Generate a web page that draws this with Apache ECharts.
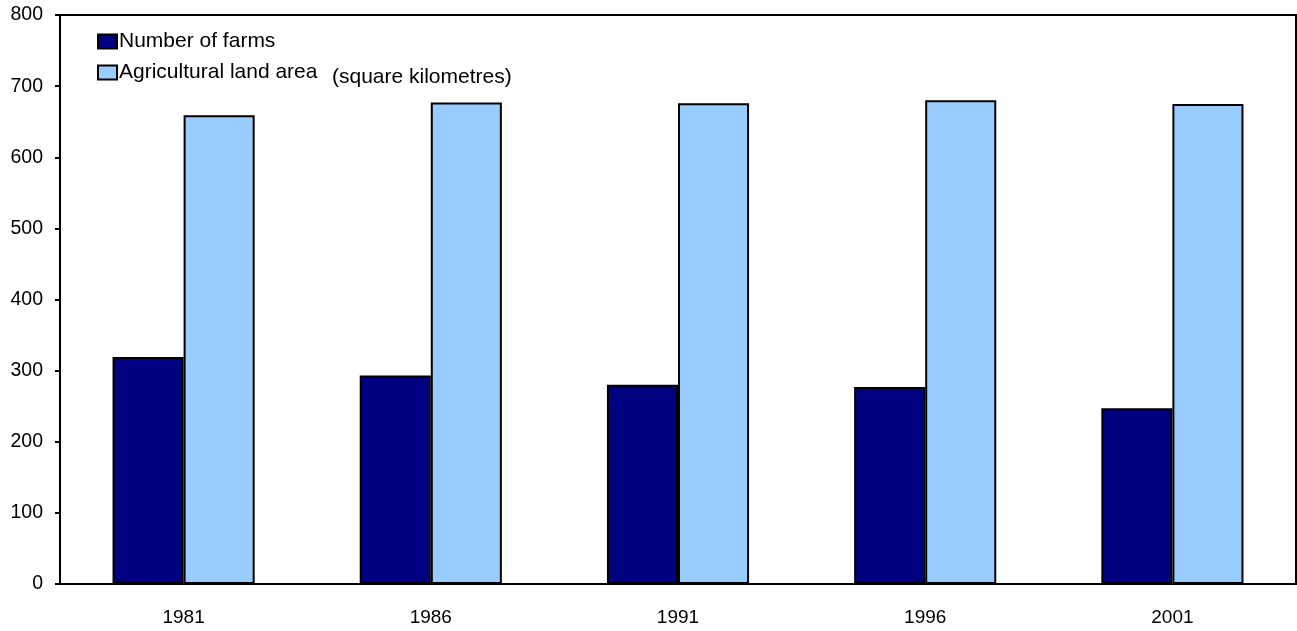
<!DOCTYPE html>
<html>
<head>
<meta charset="utf-8">
<script src="https://cdn.jsdelivr.net/npm/echarts@6/dist/echarts.min.js"></script>
<style>
html,body{margin:0;padding:0;background:#fff;}
#chart{width:1297px;height:631px;}
</style>
</head>
<body>
<div id="chart"></div>
<script>
const categories = ['1981', '1986', '1991', '1996', '2001'];
const farms = [319, 293, 280, 277, 247];
const landArea = [659, 677, 676, 680, 675];
const yTicks = [0, 100, 200, 300, 400, 500, 600, 700, 800];

const chart = echarts.init(document.getElementById('chart'));
const font = 'Liberation Sans, Arial, sans-serif';
chart.setOption({
  animation: false,
  grid: {left: 60, right: 1, top: 15, bottom: 47, show: true, borderColor: '#000', borderWidth: 2, backgroundColor: 'transparent'},
  legend: {
    orient: 'vertical', left: 92, top: 26, itemGap: 10,
    itemWidth: 19, itemHeight: 14, icon: 'rect',
    itemStyle: {borderColor: '#000', borderWidth: 2},
    textStyle: {fontFamily: font, fontSize: 21, color: '#000', padding: [0, 0, 0, -3]},
    data: ['Number of farms', 'Agricultural land area']
  },
  graphic: [{
    type: 'text', left: 332, top: 67,
    style: {text: '(square kilometres)', fontFamily: font, fontSize: 21, fill: '#000'}
  }],
  xAxis: {
    type: 'category', data: categories,
    axisLine: {lineStyle: {color: '#000', width: 2}},
    axisTick: {inside: true, length: 7, lineStyle: {color: '#000', width: 2}},
    axisLabel: {fontFamily: font, fontSize: 19, color: '#000', margin: 24}
  },
  yAxis: {
    type: 'value', min: yTicks[0], max: yTicks[yTicks.length - 1], interval: 100,
    axisLine: {show: true, lineStyle: {color: '#000', width: 2}},
    axisTick: {show: true, length: 5, lineStyle: {color: '#000', width: 2}},
    splitLine: {show: false},
    axisLabel: {fontFamily: font, fontSize: 19.5, color: '#000', margin: 17}
  },
  series: [
    {name: 'Number of farms', type: 'bar', data: farms, barGap: '0%', barCategoryGap: '42.5%',
     itemStyle: {color: '#000080', borderColor: '#000', borderWidth: 2}},
    {name: 'Agricultural land area', type: 'bar', data: landArea, barGap: '0%', barCategoryGap: '42.5%',
     itemStyle: {color: '#99ccff', borderColor: '#000', borderWidth: 2}}
  ]
});
</script>
</body>
</html>
